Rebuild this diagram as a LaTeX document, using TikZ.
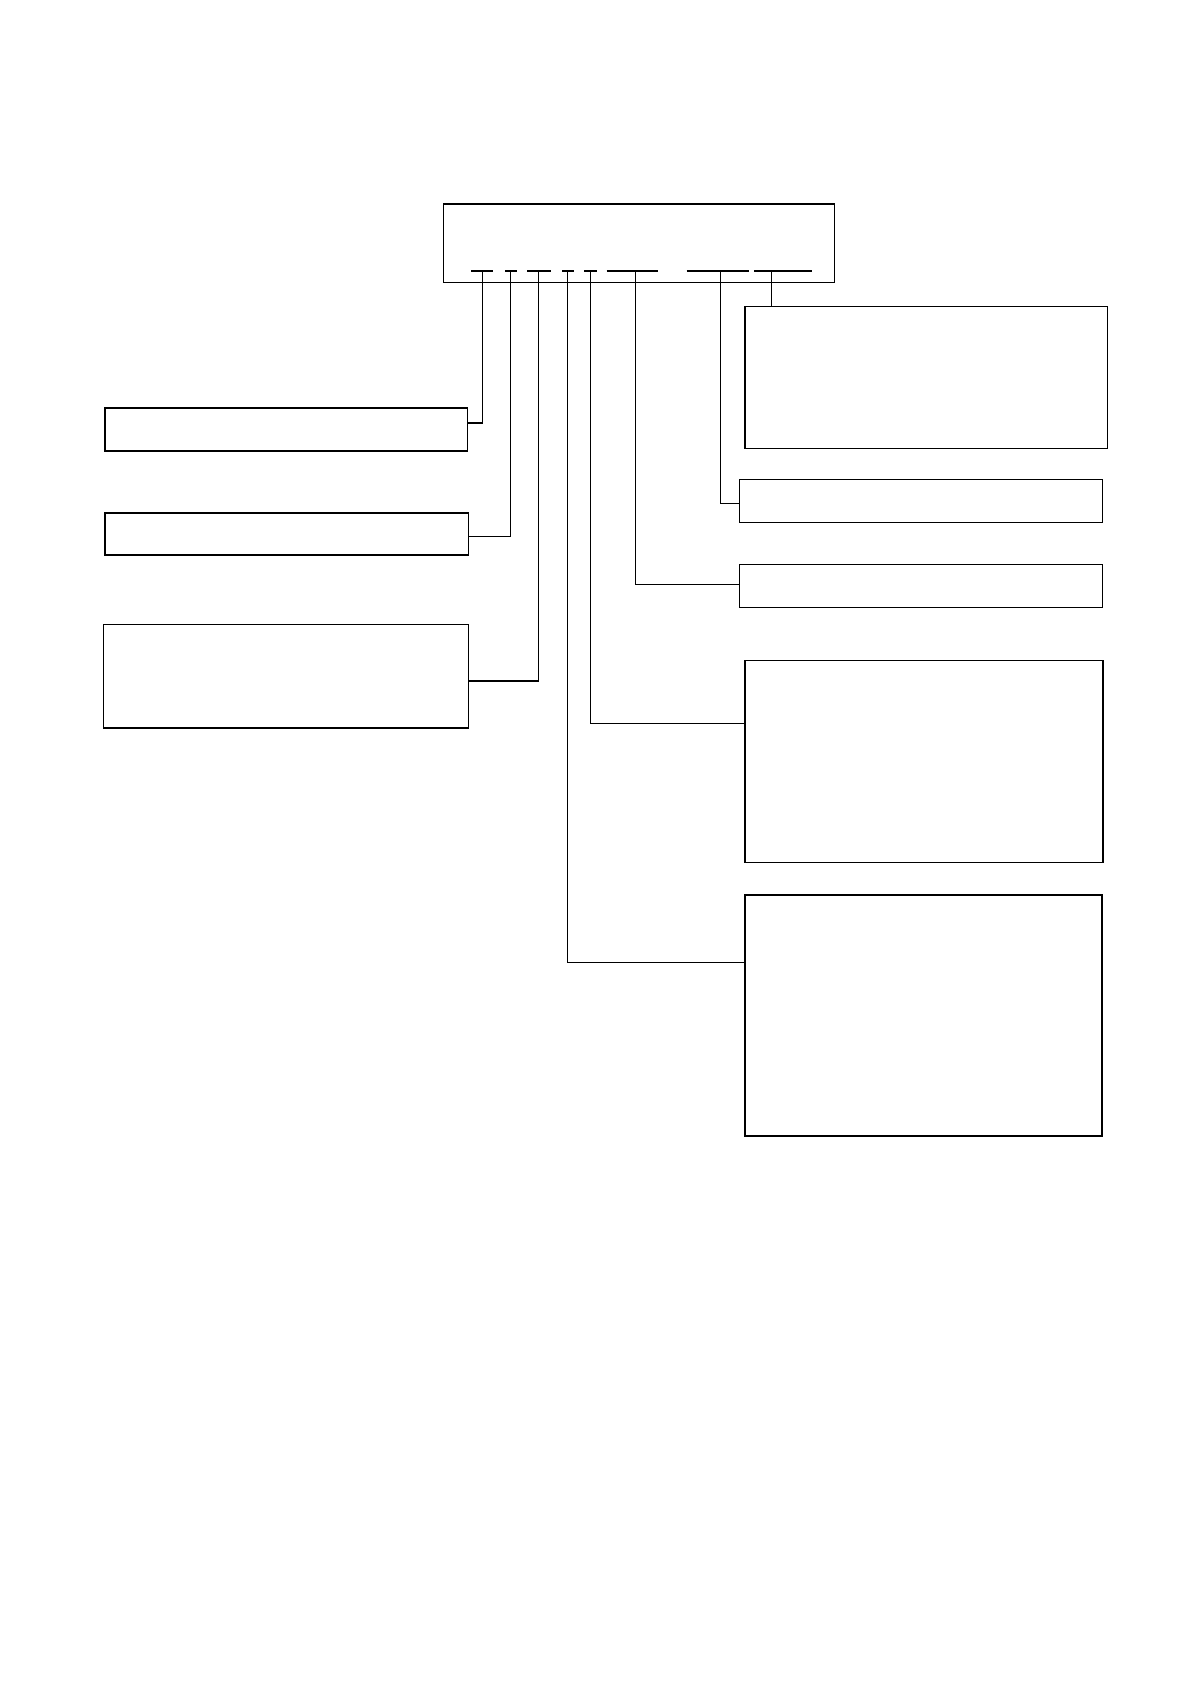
\documentclass[tikz,border=0pt]{standalone}
\usepackage{tikz}
\usetikzlibrary{positioning}
\tikzstyle{block} = [rectangle, draw, inner sep=0pt, anchor=north west]
\tikzstyle{edge} = [draw, -]
\tikzstyle{bar} = [draw, -]

\begin{document}
\begin{tikzpicture}[semithick]
  \useasboundingbox (0,0) rectangle (21,-29.718);
  % Place nodes
  \node [block, minimum width=6.90cm, minimum height=1.383cm] (top) at (7.823,-3.588) {};
  \node [block, minimum width=6.395cm, minimum height=0.759cm] (l1) at (1.841,-7.188) {};
  \node [block, minimum width=6.413cm, minimum height=0.741cm] (l2) at (1.841,-9.041) {};
  \node [block, minimum width=6.431cm, minimum height=1.818cm] (l3) at (1.823,-11.017) {};
  \node [block, minimum width=6.395cm, minimum height=2.506cm] (r1) at (13.135,-5.405) {};
  \node [block, minimum width=6.395cm, minimum height=0.759cm] (r2) at (13.046,-8.458) {};
  \node [block, minimum width=6.395cm, minimum height=0.759cm] (r3) at (13.046,-9.958) {};
  \node [block, minimum width=6.318cm, minimum height=3.565cm] (r4) at (13.135,-11.652) {};
  \node [block, minimum width=6.300cm, minimum height=4.253cm] (r5) at (13.135,-15.782) {};

  % Bars in the top box
  \foreach \a/\b/\c [count=\i] in {8.312/8.706/8.511, 8.912/9.118/9.006,
      9.305/9.718/9.499, 9.918/10.129/10.018, 10.311/10.530/10.417,
      10.706/11.617/11.211, 12.118/13.218/12.718, 13.311/14.324/13.611}
  {
    \path [bar] (\a,-4.782) -- (\b,-4.782);
    \coordinate (b\i) at (\c,-4.782);
  }

  % Connectors
  \path [edge] (b1) |- ([yshift=0.115cm]l1.east);
  \path [edge] (b2) |- ([yshift=-0.05cm]l2.east);
  \path [edge] (b3) |- ([yshift=-0.08cm]l3.east);
  \path [edge] (b4) |- ([yshift=0.93cm]r5.west);
  \path [edge] (b5) |- ([yshift=0.676cm]r4.west);
  \path [edge] (b6) |- ([yshift=0.04cm]r3.west);
  \path [edge] (b7) |- ([yshift=-0.04cm]r2.west);
  \path [edge] (b8) -- (b8 |- r1.north);

\end{tikzpicture}
\end{document}
